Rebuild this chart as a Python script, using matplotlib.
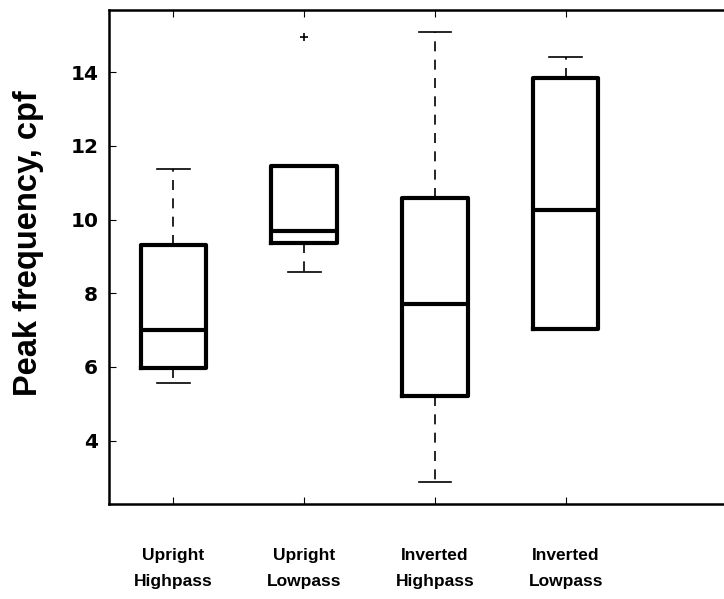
import matplotlib.pyplot as plt

categories = ["Upright\nHighpass", "Upright\nLowpass", "Inverted\nHighpass", "Inverted\nLowpass"]
whislo = [5.57, 8.58, 2.89, 7.03]
q1 = [5.98, 9.37, 5.20, 7.03]
med = [6.99, 9.69, 7.70, 10.27]
q3 = [9.30, 11.45, 10.58, 13.85]
whishi = [11.36, 11.45, 15.08, 14.42]
fliers = [[], [14.94], [], []]

plt.rcParams['font.family'] = ['Liberation Sans', 'DejaVu Sans']

stats = []
for i in range(len(categories)):
    stats.append(dict(whislo=whislo[i], q1=q1[i], med=med[i], q3=q3[i],
                      whishi=whishi[i], fliers=fliers[i], label=categories[i]))

fig = plt.figure(figsize=(7.24, 5.99), dpi=100)
ax = fig.add_axes([0.151, 0.1586, 0.849, 0.8244])

ax.bxp(stats, positions=[1, 2, 3, 4], widths=0.5, capwidths=0.25,
       boxprops=dict(color='black', linewidth=3),
       medianprops=dict(color='black', linewidth=3),
       whiskerprops=dict(color='black', linewidth=1.2, linestyle=(0, (6, 5))),
       capprops=dict(color='black', linewidth=1.2),
       flierprops=dict(marker='+', markeredgecolor='black', markersize=6, markeredgewidth=1.2))

ax.set_xlim(0.51, 5.21)
ax.set_ylim(2.28, 15.68)
ax.set_yticks([4, 6, 8, 10, 12, 14])
ax.set_xticks([1, 2, 3, 4])
ax.set_xticklabels(categories, fontsize=12.5, fontweight='bold', linespacing=1.9)
ax.tick_params(axis='x', direction='in', length=5, pad=32, top=True)
ax.tick_params(axis='y', direction='in', length=5, pad=8)
for lab in ax.get_yticklabels():
    lab.set_fontweight('bold')
    lab.set_fontsize(14.5)
    lab.set_family('DejaVu Sans')

ax.spines['right'].set_visible(False)
for s in ['left', 'top', 'bottom']:
    ax.spines[s].set_linewidth(1.8)

ax.set_ylabel("Peak frequency, cpf", fontsize=23.5, fontweight='bold')
ax.yaxis.set_label_coords(-0.106, 0.528)

fig.savefig("out.png", dpi=100)
